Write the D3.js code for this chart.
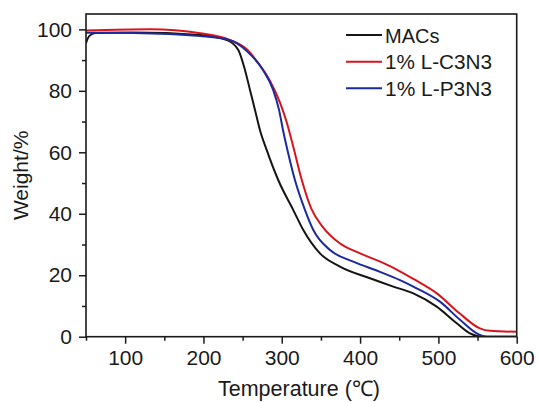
<!DOCTYPE html>
<html>
<head>
<meta charset="utf-8">
<script src="https://cdn.jsdelivr.net/npm/d3@7"></script>
<style>
  html, body { margin: 0; padding: 0; background: #ffffff; }
  svg { display: block; }
  text { font-family: Arial, "Liberation Sans", sans-serif; fill: #1a1a1a; }
</style>
</head>
<body>
<svg id="chart" width="539" height="402"></svg>
<script>
// ---- data ----
const xTicks = [100, 200, 300, 400, 500, 600];
const xMinorTicks = [50, 150, 250, 350, 450, 550];
const yTicks = [0, 20, 40, 60, 80, 100];
const yMinorTicks = [10, 30, 50, 70, 90];

const seriesNames = ["MACs", "1% L-C3N3", "1% L-P3N3"];
const seriesColors = ["#151515", "#d8141c", "#1b2a9c"];

const macsT = [50, 54, 62, 110, 196, 230, 244.5, 253, 259.4, 265.8, 272.2, 280.8, 295.6, 314.7, 327.5, 348.8, 374.3, 412.7, 442.4, 468, 497.8, 523.4, 540.4, 557.3, 600];
const macsW = [95.5, 97.8, 98.8, 99.0, 98.2, 96.5, 93.3, 86.8, 80.3, 73.8, 67.2, 60.7, 50.9, 41.2, 34.7, 27.1, 22.8, 19.0, 16.3, 14.1, 9.8, 4.4, 1.1, 0, 0];

const c3n3T = [50, 132, 196, 234, 255, 270, 285, 298, 306, 315, 325, 338, 353, 374, 400, 425, 445, 468, 498, 527, 553, 566, 600];
const c3n3W = [99.6, 100, 98.7, 96.5, 93.6, 89.0, 83.2, 76.0, 70.0, 61.5, 51.5, 41.5, 35.5, 30.4, 27.1, 24.5, 22.1, 18.8, 14.1, 7.6, 2.7, 1.9, 1.6];

const p3n3T = [50, 110, 196, 234, 255, 276, 289, 296.5, 301.6, 307.3, 316.9, 329.7, 340.3, 361.6, 391.3, 425.4, 451, 468, 502, 528, 549, 562, 600];
const p3n3W = [98.9, 98.8, 97.8, 96.5, 93.0, 86.8, 80.3, 73.8, 67.2, 60.7, 50.9, 41.2, 34.7, 28.2, 24.4, 21.1, 18.4, 16.3, 11.4, 5.4, 1.1, 0, 0];

// ---- layout ----
const svg = d3.select("#chart");
const L = 86, R = 516.7, T = 14, B = 336.7;

const x = d3.scaleLinear().domain([50, 600]).range([L, R]);
const y = d3.scaleLinear().domain([0, 105]).range([B, T]);

const series = [
  { name: seriesNames[0], color: seriesColors[0], T: macsT, W: macsW },
  { name: seriesNames[1], color: seriesColors[1], T: c3n3T, W: c3n3W },
  { name: seriesNames[2], color: seriesColors[2], T: p3n3T, W: p3n3W }
];

svg.append("defs").append("clipPath").attr("id", "clip")
  .append("rect").attr("x", L).attr("y", T).attr("width", R - L).attr("height", B - T);

const line = d3.line()
  .x(d => x(d[0]))
  .y(d => y(d[1]))
  .curve(d3.curveMonotoneX);

const plot = svg.append("g").attr("clip-path", "url(#clip)");
series.forEach(s => {
  const pts = s.T.map((t, i) => [t, s.W[i]]);
  plot.append("path")
    .datum(pts)
    .attr("d", line)
    .attr("fill", "none")
    .attr("stroke", s.color)
    .attr("stroke-width", 2)
    .attr("stroke-linejoin", "round");
});

// ---- axes ----
const axisStyle = g => {
  g.selectAll(".domain").remove();
  g.selectAll(".tick line").attr("stroke", "#1a1a1a").attr("stroke-width", 1.5);
  g.selectAll(".tick text").attr("font-size", 21).attr("fill", "#1a1a1a")
    .attr("font-family", 'Arial, "Liberation Sans", sans-serif');
};

svg.append("g").attr("transform", `translate(0,${B})`)
  .call(d3.axisBottom(x).tickValues(xMinorTicks).tickSize(4).tickFormat(""))
  .call(axisStyle);
svg.append("g").attr("transform", `translate(0,${B})`)
  .call(d3.axisBottom(x).tickValues(xTicks).tickSize(7).tickPadding(6))
  .call(axisStyle);

svg.append("g").attr("transform", `translate(${L},0)`)
  .call(d3.axisLeft(y).tickValues(yMinorTicks).tickSize(4).tickFormat(""))
  .call(axisStyle);
svg.append("g").attr("transform", `translate(${L},0)`)
  .call(d3.axisLeft(y).tickValues(yTicks).tickSize(7).tickPadding(7))
  .call(axisStyle);

// frame
svg.append("rect")
  .attr("x", L).attr("y", T).attr("width", R - L).attr("height", B - T)
  .attr("fill", "none").attr("stroke", "#1a1a1a").attr("stroke-width", 1.6);

// ---- axis titles ----
svg.append("text")
  .attr("x", 299).attr("y", 396)
  .attr("text-anchor", "middle").attr("font-size", 21.5)
  .text("Temperature (℃)");

svg.append("text")
  .attr("transform", `translate(28,${(T + B) / 2}) rotate(-90)`)
  .attr("text-anchor", "middle").attr("font-size", 21)
  .text("Weight/%");

// ---- legend ----
const legendY = [35, 61.7, 88.3];
const legend = svg.append("g");
series.forEach((s, i) => {
  legend.append("line")
    .attr("x1", 346).attr("x2", 382)
    .attr("y1", legendY[i]).attr("y2", legendY[i])
    .attr("stroke", s.color).attr("stroke-width", 2);
  legend.append("text")
    .attr("x", 385).attr("y", legendY[i] + 7.5)
    .attr("font-size", 20)
    .attr("textLength", 107).attr("lengthAdjust", "spacingAndGlyphs")
    .text(s.name)
    .each(function() {
      // only the long labels are fitted to the reference width
      if (s.name === "MACs") d3.select(this).attr("textLength", null).attr("lengthAdjust", null);
    });
});
</script>
</body>
</html>
